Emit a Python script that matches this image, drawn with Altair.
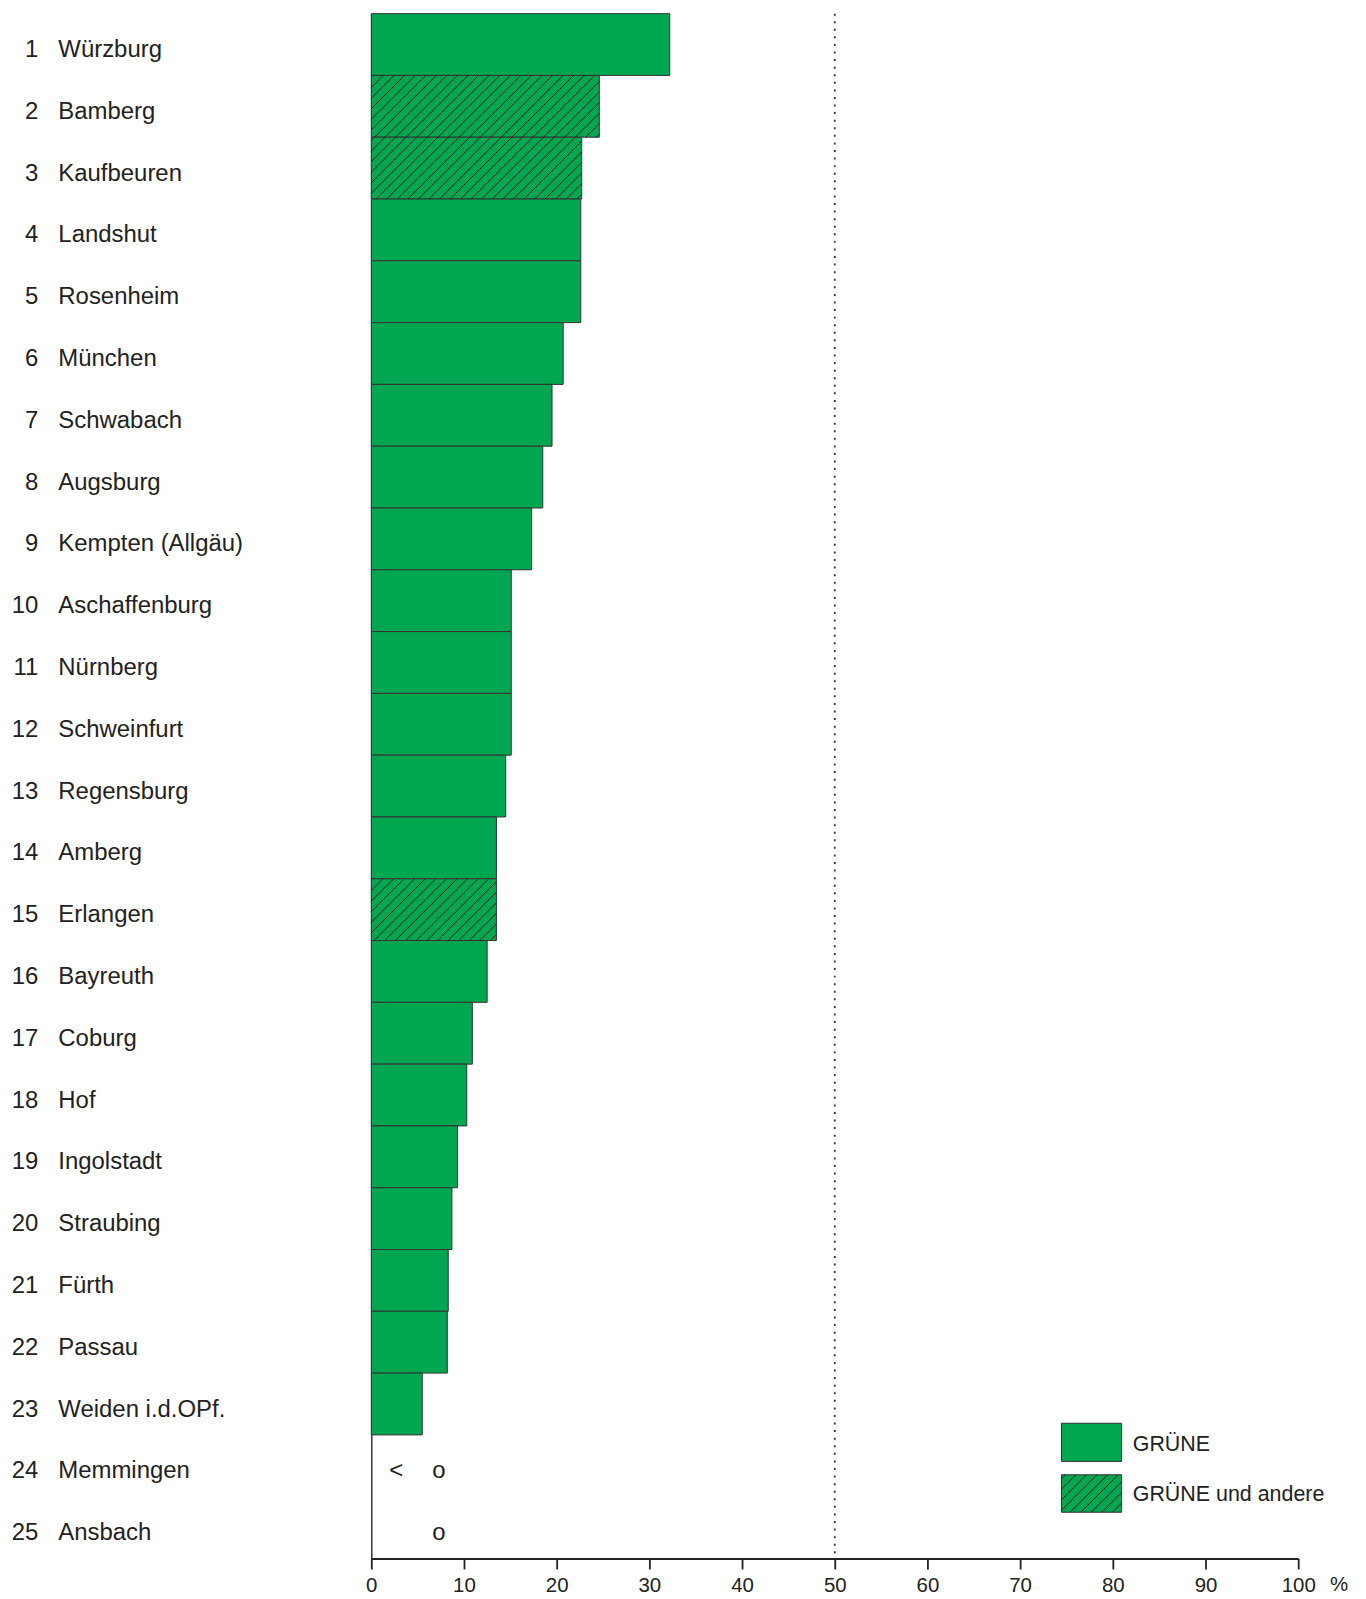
import math
import altair as alt
import pandas as pd

# ---------------- data ----------------
ranks = list(range(1, 26))
cities = ["Würzburg", "Bamberg", "Kaufbeuren", "Landshut", "Rosenheim", "München",
          "Schwabach", "Augsburg", "Kempten (Allgäu)", "Aschaffenburg", "Nürnberg",
          "Schweinfurt", "Regensburg", "Amberg", "Erlangen", "Bayreuth", "Coburg",
          "Hof", "Ingolstadt", "Straubing", "Fürth", "Passau", "Weiden i.d.OPf.",
          "Memmingen", "Ansbach"]
values = [32.2, 24.6, 22.7, 22.6, 22.6, 20.7, 19.5, 18.5, 17.3, 15.1, 15.1, 15.1,
          14.5, 13.5, 13.5, 12.5, 10.9, 10.3, 9.3, 8.7, 8.3, 8.2, 5.5, None, None]
lists = ["GRÜNE", "GRÜNE und andere", "GRÜNE und andere", "GRÜNE", "GRÜNE", "GRÜNE",
         "GRÜNE", "GRÜNE", "GRÜNE", "GRÜNE", "GRÜNE", "GRÜNE", "GRÜNE", "GRÜNE",
         "GRÜNE und andere", "GRÜNE", "GRÜNE", "GRÜNE", "GRÜNE", "GRÜNE", "GRÜNE",
         "GRÜNE", "GRÜNE", None, None]
note_city = ["Memmingen", "Memmingen", "Ansbach"]
note_text = ["<", "o", "o"]
note_x = [2.7, 7.3, 7.3]
legend_labels = ["GRÜNE", "GRÜNE und andere"]
x_ticks = [0, 10, 20, 30, 40, 50, 60, 70, 80, 90, 100]
ref_line = [50]

# ---------------- layout ----------------
W, H = 930, 1550
NROWS = 25
PX = W / 100.0
PY = H / NROWS
HATCH = 10.6
GREEN = "#00A650"
INK = "#222222"
FONT = "Liberation Sans"

rank_of = dict(zip(cities, ranks))

bars = pd.DataFrame({"rank": ranks, "city": cities, "value": values, "list": lists})
bars = bars.dropna(subset=["value"]).copy()
bars["x0"] = 0.0
bars["top"] = bars["rank"] - 1
bars["bottom"] = bars["rank"]

labels = pd.DataFrame({"rank": ranks, "city": cities})
labels["mid"] = labels["rank"] - 0.5


def hatch_segments(x0, x1, y0, y1):
    gu0, gu1, gv0, gv1 = x0 * PX, x1 * PX, y0 * PY, y1 * PY
    segs = []
    for k in range(math.ceil((gu0 + gv0) / HATCH), math.floor((gu1 + gv1) / HATCH) + 1):
        c = k * HATCH
        ua = max(gu0, c - gv1)
        ub = min(gu1, c - gv0)
        if ub - ua > 0.3:
            segs.append({"x": ua / PX, "y": (c - ua) / PY,
                         "x2": ub / PX, "y2": (c - ub) / PY})
    return segs


hseg = []
for _, r in bars[bars["list"] == "GRÜNE und andere"].iterrows():
    hseg += hatch_segments(0, r["value"], r["top"], r["bottom"])

# legend (pixel layout converted into data units)
LX0, LX1 = 692.5, 752.8
LBOX = [(1414.3, 1452.6), (1466.0, 1503.6)]
LTXT_X = 764.0
LTXT_Y = [1442.6, 1492.0]
leg_box = pd.DataFrame({
    "label": legend_labels,
    "x": [LX0 / PX] * 2, "x2": [LX1 / PX] * 2,
    "y": [b[0] / PY for b in LBOX], "y2": [b[1] / PY for b in LBOX],
})
leg_txt = pd.DataFrame({"label": legend_labels,
                        "x": [LTXT_X / PX] * 2,
                        "y": [v / PY for v in LTXT_Y]})
hseg += hatch_segments(LX0 / PX, LX1 / PX, LBOX[1][0] / PY, LBOX[1][1] / PY)
hatch = pd.DataFrame(hseg)

notes = pd.DataFrame({"city": note_city, "text": note_text, "x": note_x})
notes["mid"] = notes["city"].map(rank_of) - 0.5

xscale = alt.Scale(domain=[0, 100], nice=False, zero=False)
yscale = alt.Scale(domain=[0, NROWS], nice=False, zero=False, reverse=True)

xaxis = alt.Axis(values=x_ticks, grid=False, domainColor=INK, domainWidth=2,
                 tickColor=INK, tickWidth=1.8, tickSize=10.5, labelFontSize=20.5,
                 labelColor=INK, labelFont=FONT, labelPadding=7, labelFlush=False,
                 labelOverlap=False, title="%", titleX=970.5, titleY=32.3,
                 titleAngle=0, titleAlign="center", titleBaseline="alphabetic",
                 titleFontSize=20.5, titleFontWeight="normal", titleColor=INK,
                 titleFont=FONT)
yaxis = alt.Axis(labels=False, ticks=False, grid=False, domainColor="#333333",
                 domainWidth=1.5, title=None)

bar_layer = alt.Chart(bars).mark_rect(fill=GREEN, stroke="#333333", strokeWidth=1).encode(
    x=alt.X("x0:Q", scale=xscale, axis=xaxis),
    x2="value:Q",
    y=alt.Y("top:Q", scale=yscale, axis=yaxis),
    y2="bottom:Q",
)

hatch_layer = alt.Chart(hatch).mark_rule(color="#1e1e1e", strokeWidth=1.0).encode(
    x="x:Q", x2="x2:Q", y="y:Q", y2="y2:Q"
)

ref_layer = alt.Chart(pd.DataFrame({"x": ref_line, "y": [0], "y2": [NROWS]})).mark_rule(
    color="#333333", strokeWidth=1.8, strokeDash=[2, 5.6]
).encode(x="x:Q", y="y:Q", y2="y2:Q")

num_layer = alt.Chart(labels).mark_text(
    align="right", baseline="alphabetic", dy=12.6, fontSize=24, font=FONT, color=INK
).encode(x=alt.value(-334), y="mid:Q", text="rank:N")

name_layer = alt.Chart(labels).mark_text(
    align="left", baseline="alphabetic", dy=12.6, fontSize=24, font=FONT, color=INK
).encode(x=alt.value(-314), y="mid:Q", text="city:N")

note_layer = alt.Chart(notes).mark_text(
    align="center", baseline="alphabetic", dy=12.3, fontSize=24, font=FONT, color=INK
).encode(x="x:Q", y="mid:Q", text="text:N")

leg_box_layer = alt.Chart(leg_box).mark_rect(fill=GREEN, stroke="#333333", strokeWidth=1).encode(
    x="x:Q", x2="x2:Q", y="y:Q", y2="y2:Q"
)
leg_txt_layer = alt.Chart(leg_txt).mark_text(
    align="left", baseline="alphabetic", fontSize=21.5, font=FONT, color=INK
).encode(x="x:Q", y="y:Q", text="label:N")

chart = alt.layer(
    bar_layer, ref_layer, leg_box_layer, hatch_layer, num_layer, name_layer,
    note_layer, leg_txt_layer
).properties(
    width=W, height=H,
    autosize=alt.AutoSizeParams(type="none"),
    padding={"left": 364.5, "top": 3, "right": 60, "bottom": 40},
).configure_view(strokeWidth=0)

chart.save("out.html", embed_options={"renderer": "svg", "actions": False})
